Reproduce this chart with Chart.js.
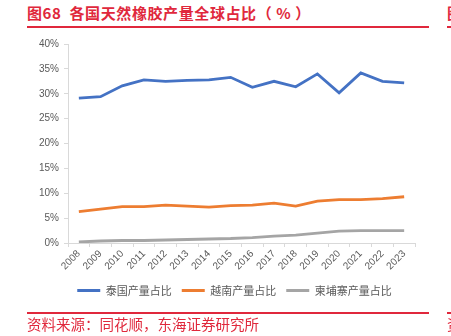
<!DOCTYPE html>
<html>
<head>
<meta charset="utf-8">
<script src="https://cdn.jsdelivr.net/npm/chart.js@4/dist/chart.umd.min.js"></script>
<style>
  html, body { margin: 0; padding: 0; background: #fff; }
  body { width: 451px; height: 336px; overflow: hidden; position: relative; font-family: "Noto Sans CJK SC", "Noto Sans", sans-serif; }
  .red { color: #e0283c; position: absolute; white-space: nowrap; }
  .title { left: 27px; top: 3px; font-size: 15px; font-weight: bold; line-height: 20px; letter-spacing: 0.6px; }
  .source { left: 27px; top: 314px; font-size: 14.5px; line-height: 20px; }
  .rule { position: absolute; background: #e0283c; }
  #wrap { position: absolute; left: 0; top: 0; width: 451px; height: 336px; }
</style>
</head>
<body>
<div class="red title">图68&nbsp; 各国天然橡胶产量全球占比（ % ）</div>
<div class="rule" style="left:27px;top:26px;width:402px;height:2px"></div>
<div class="red title" style="left:447px">图</div>
<div class="rule" style="left:447px;top:26px;width:10px;height:2px"></div>

<div id="wrap"><canvas id="chart" width="451" height="336"></canvas></div>

<div class="rule" style="left:27px;top:312px;width:402px;height:1.5px"></div>
<div class="red source">资料来源：同花顺，东海证券研究所</div>
<div class="rule" style="left:447px;top:312px;width:10px;height:1.5px"></div>
<div class="red source" style="left:447px">资</div>

<script>
let years = ["2008", "2009", "2010", "2011", "2012", "2013", "2014", "2015",
  "2016", "2017", "2018", "2019", "2020", "2021", "2022", "2023"];
let thailand = [29.1, 29.4, 31.6, 32.8, 32.5, 32.7, 32.8, 33.3, 31.3, 32.5, 31.4, 34.0, 30.2, 34.2, 32.5, 32.2];
let vietnam = [6.3, 6.8, 7.3, 7.3, 7.6, 7.4, 7.2, 7.5, 7.6, 8.0, 7.4, 8.4, 8.7, 8.7, 8.9, 9.3];
let cambodia = [0.2, 0.4, 0.5, 0.5, 0.6, 0.7, 0.8, 0.9, 1.1, 1.4, 1.6, 2.0, 2.4, 2.5, 2.5, 2.5];
let yTicks = [0, 5, 10, 15, 20, 25, 30, 35, 40];

let axisColor = "#d9d9d9";
let textColor = "#595959";

// nudge the legend so it sits under the plot, not under the whole canvas
const legendShift = {
  id: "legendShift",
  afterLayout(chart) {
    chart.legend.left += 17;
    chart.legend.right += 17;
  },
};

let ctx = document.getElementById("chart").getContext("2d");
let myChart = new Chart(ctx, {
  type: "line",
  data: {
    labels: years,
    datasets: [
      { label: "泰国产量占比", data: thailand, borderColor: "#4472c4", backgroundColor: "#4472c4" },
      { label: "越南产量占比", data: vietnam, borderColor: "#ed7d31", backgroundColor: "#ed7d31" },
      { label: "柬埔寨产量占比", data: cambodia, borderColor: "#a5a5a5", backgroundColor: "#a5a5a5" },
    ],
  },
  plugins: [legendShift],
  options: {
    responsive: false,
    animation: false,
    layout: { padding: { left: 20, right: 36, top: 44, bottom: 30 } },
    elements: {
      line: { borderWidth: 2.8, tension: 0 },
      point: { radius: 0 },
    },
    plugins: {
      tooltip: { enabled: false },
      legend: {
        position: "bottom",
        labels: {
          boxWidth: 23,
          boxHeight: 3,
          padding: 10,
          color: textColor,
          font: { family: "Noto Sans CJK SC", size: 11 },
          generateLabels: (chart) => {
            let items = Chart.defaults.plugins.legend.labels.generateLabels(chart);
            items.forEach((it) => { it.lineWidth = 0; });
            return items;
          },
        },
      },
    },
    scales: {
      x: {
        offset: true,
        afterFit: (scale) => { scale.height = 32; },
        border: { color: axisColor, width: 1 },
        grid: { offset: true, drawOnChartArea: false, drawTicks: true, tickLength: 4, color: axisColor },
        ticks: {
          minRotation: 45,
          maxRotation: 45,
          padding: 1,
          color: textColor,
          font: { family: "Liberation Sans", size: 10 },
        },
      },
      y: {
        min: 0,
        max: 40,
        afterFit: (scale) => { scale.width = 48; },
        afterBuildTicks: (scale) => { scale.ticks = yTicks.map((v) => ({ value: v })); },
        border: { color: axisColor, width: 1 },
        grid: { drawOnChartArea: false, drawTicks: true, tickLength: 4, color: axisColor },
        ticks: {
          padding: 5,
          color: textColor,
          font: { family: "Liberation Sans", size: 10 },
          callback: (v) => v + "%",
        },
      },
    },
  },
});
</script>
</body>
</html>
